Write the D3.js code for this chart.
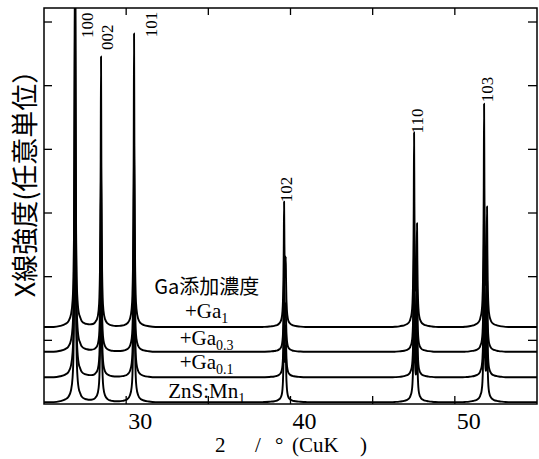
<!DOCTYPE html>
<html>
<head>
<meta charset="utf-8">
<script src="https://cdn.jsdelivr.net/npm/d3@7"></script>
<style>
  body { margin: 0; background: #fff; }
</style>
</head>
<body>
<svg id="chart" width="539" height="459"></svg>
<script>

// reflections (2theta in degrees)
let hkl = ["100", "002", "101", "102", "110", "103"];
let peakPos = [26.89, 28.47, 30.48, 39.61, 47.52, 51.78];
// K-alpha2 shoulders of 102, 110, 103
let ka2Pos = [39.71, 47.70, 51.96];

// traces, bottom to top
let seriesName = ["ZnS:Mn", "+Ga", "+Ga", "+Ga"];
let seriesSub = ["1", "0.1", "0.3", "1"];
let baseLevel = [0.03, 0.42, 0.82, 1.21];
let peakHeight = [
    [6.5, 3.6, 3.8, 1.5, 2.3, 2.6],
    [6.5, 3.2, 3.5, 1.4, 2.1, 2.4],
    [6.5, 3.0, 3.3, 1.3, 2.0, 2.3],
    [7.0, 4.25, 4.61, 1.87, 2.98, 3.42]
];
let ka2Height = [
    [0.72, 1.10, 1.25],
    [0.66, 1.02, 1.16],
    [0.62, 1.00, 1.12],
    [0.90, 1.48, 1.72]
];

// peak shape: distance from centre (deg) -> fraction of height
let profD = [0, 0.02, 0.04, 0.07, 0.1, 0.15, 0.25, 0.4, 0.6, 0.9, 1.3];
let profF = [1, 0.62, 0.36, 0.19, 0.11, 0.06, 0.028, 0.013, 0.0065, 0.0025, 0];

let xTicks = [30, 35, 40, 45, 50];
let xTickLabels = [30, 40, 50];
let yTicks = [1, 2, 3, 4, 5, 6];

// where the hkl labels start (2theta, intensity)
let labelAt2t = [27.98, 29.20, 31.88, 40.09, 48.07, 52.33];
let labelAtI = [5.75, 5.56, 5.76, 3.17, 4.25, 4.74];


const serif = "Liberation Serif";
const gothic = "Noto Sans CJK JP";

const plotL = 44, plotR = 537, plotT = 8, plotB = 404;

let svg = d3.select("#chart");

let x = d3.scaleLinear().domain([25, 55]).range([plotL, plotR]);
let y = d3.scaleLinear().domain([0, 6.22]).range([plotB, plotT]);
let prof = d3.scaleLinear().domain(profD).range(profF).clamp(true);

svg.append("clipPath").attr("id", "plotclip")
    .append("rect")
    .attr("x", plotL).attr("y", plotT)
    .attr("width", plotR - plotL).attr("height", plotB - plotT);

function tracePoints(i) {
    let centres = peakPos.concat(ka2Pos);
    let heights = peakHeight[i].concat(ka2Height[i]);
    let xs = [25, 55];
    centres.forEach(function(c) {
        profD.forEach(function(d) {
            xs.push(c - d);
            xs.push(c + d);
        });
    });
    xs = Array.from(new Set(xs)).filter(v => v >= 25 && v <= 55).sort((a, b) => a - b);
    return xs.map(function(v) {
        let val = baseLevel[i];
        centres.forEach(function(c, k) {
            val += heights[k] * prof(Math.abs(v - c));
        });
        return [v, val];
    });
}

let line = d3.line()
    .x(d => x(d[0]))
    .y(d => y(d[1]))
    .curve(d3.curveMonotoneX);

let traces = svg.append("g").attr("clip-path", "url(#plotclip)");
baseLevel.forEach(function(b, i) {
    traces.append("path")
        .attr("d", line(tracePoints(i)))
        .attr("fill", "none")
        .attr("stroke", "#000")
        .attr("stroke-width", 1.9)
        .attr("stroke-linejoin", "round");
});

// frame
svg.append("rect")
    .attr("x", plotL).attr("y", plotT)
    .attr("width", plotR - plotL).attr("height", plotB - plotT)
    .attr("fill", "none").attr("stroke", "#000").attr("stroke-width", 1.5);

// inward ticks on all four sides
let tk = svg.append("g").attr("stroke", "#000").attr("stroke-width", 1.3);
xTicks.forEach(function(t) {
    tk.append("line").attr("x1", x(t)).attr("x2", x(t)).attr("y1", plotB).attr("y2", plotB - 8);
    tk.append("line").attr("x1", x(t)).attr("x2", x(t)).attr("y1", plotT).attr("y2", plotT + 7);
});
yTicks.forEach(function(t) {
    tk.append("line").attr("x1", plotL).attr("x2", plotL + 8).attr("y1", y(t)).attr("y2", y(t));
    tk.append("line").attr("x1", plotR).attr("x2", plotR - 9).attr("y1", y(t)).attr("y2", y(t));
});

// tick labels sit a little right of their ticks in the original
svg.selectAll(".xlab").data(xTickLabels).enter()
    .append("text")
    .attr("font-family", serif)
    .attr("font-size", 24)
    .attr("x", d => x(d) + 14)
    .attr("y", 429)
    .attr("text-anchor", "middle")
    .text(d => d);

// x axis title (theta and alpha glyphs are blank in the original)
let xt = svg.append("text")
    .attr("font-family", serif)
    .attr("font-size", 21)
    .attr("y", 452);
[["2", 215], ["/", 255], ["°", 275], ["(CuK", 292], [")", 360]].forEach(function(p) {
    xt.append("tspan").attr("x", p[1]).text(p[0]);
});

// y axis title
svg.append("text")
    .attr("font-family", gothic)
    .attr("font-size", 27)
    .attr("transform", "translate(35,177) rotate(-90)")
    .attr("text-anchor", "middle")
    .text("X線強度(任意単位）");

// hkl labels
hkl.forEach(function(h, i) {
    svg.append("text")
        .attr("font-family", serif)
        .attr("font-size", 17)
        .attr("transform", "translate(" + x(labelAt2t[i]) + "," + y(labelAtI[i]) + ") rotate(-90)")
        .text(h);
});

// series labels
let lift = [4, 8, 7, 9];
seriesName.forEach(function(n, i) {
    let t = svg.append("text")
        .attr("font-family", serif)
        .attr("font-size", 21)
        .attr("x", x(34.9))
        .attr("y", y(baseLevel[i]) - lift[i])
        .attr("text-anchor", "middle");
    t.append("tspan").text(n);
    t.append("tspan").attr("dy", 5).attr("font-size", 14).text(seriesSub[i]);
});

svg.append("text")
    .attr("font-family", gothic)
    .attr("font-size", 20)
    .attr("x", x(34.9))
    .attr("y", 294)
    .attr("text-anchor", "middle")
    .text("Ga添加濃度");

</script>
</body>
</html>
